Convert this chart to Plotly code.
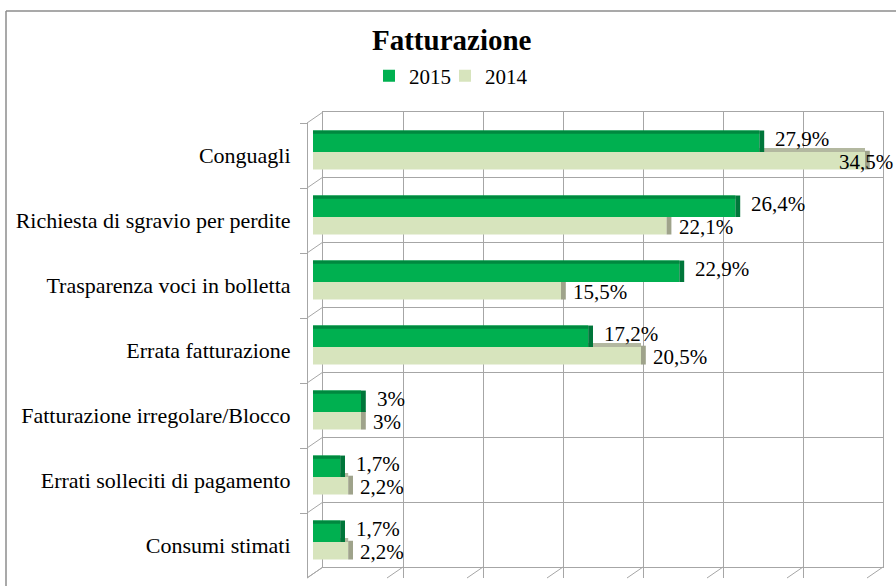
import plotly.graph_objects as go

# ---------------- data ----------------
categories = [
    "Conguagli",
    "Richiesta di sgravio per perdite",
    "Trasparenza voci in bolletta",
    "Errata fatturazione",
    "Fatturazione irregolare/Blocco",
    "Errati solleciti di pagamento",
    "Consumi stimati",
]
values_2015 = [27.9, 26.4, 22.9, 17.2, 3.0, 1.7, 1.7]
values_2014 = [34.5, 22.1, 15.5, 20.5, 3.0, 2.2, 2.2]
series_names = ["2015", "2014"]
title_text = "Fatturazione"
x_max = 35
x_step = 5

# ---------------- style / layout constants ----------------
W, H = 896, 586
FONT = "Liberation Serif"
C15, C15_TOP, C15_SIDE = "#00b050", "#00893f", "#00763a"
C14, C14_TOP, C14_SIDE = "#d7e4bd", "#b3b8a0", "#9fa38b"
GRID = "#a6a6a6"
PX_PER_UNIT = 16
FRONT_X0, BACK_X0, BAR_X0 = 307, 323, 313
FRONT_Y0, BACK_Y0, BAND = 123, 112, 65
BAR_Y0 = 119.5
N = len(categories)


def px(x):
    return x / W


def py(y):
    return 1 - y / H


def fmt(v):
    if abs(v - round(v)) < 1e-9:
        return f"{int(round(v))}%"
    return f"{v:.1f}".replace(".", ",") + "%"


W15, W14 = 0.33, 0.27
SIDE = 0.3
cat_range = [N - 0.5, -0.5]

fig = go.Figure()

# invisible trace for back-wall grid subplot (xy)
fig.add_trace(go.Scatter(x=[None], y=[None], xaxis="x", yaxis="y",
                         showlegend=False, hoverinfo="skip"))
# invisible trace for the category-label axis (x, y3)
fig.add_trace(go.Scatter(x=[0] * N, y=categories, xaxis="x", yaxis="y3",
                         mode="markers", marker=dict(opacity=0),
                         showlegend=False, hoverinfo="skip"))

# 2014 top face (visible where not covered by 2015 bar)
fig.add_trace(go.Bar(y=categories, x=values_2014, orientation="h",
                     xaxis="x2", yaxis="y2", width=0.06, offset=-0.06,
                     marker=dict(color=C14_TOP, line=dict(width=0)),
                     showlegend=False, hoverinfo="skip"))
# 2014 bars
fig.add_trace(go.Bar(y=categories, x=values_2014, orientation="h", name=series_names[1],
                     xaxis="x2", yaxis="y2", width=W14, offset=0,
                     marker=dict(color=C14, line=dict(width=0)), legend="legend2"))
# 2014 side face
fig.add_trace(go.Bar(y=categories, x=[SIDE] * N, base=values_2014, orientation="h",
                     xaxis="x2", yaxis="y2", width=W14 + 0.02, offset=-0.02,
                     marker=dict(color=C14_SIDE, line=dict(width=0)),
                     showlegend=False, hoverinfo="skip"))
# 2015 bars
fig.add_trace(go.Bar(y=categories, x=values_2015, orientation="h", name=series_names[0],
                     xaxis="x2", yaxis="y2", width=W15, offset=-W15,
                     marker=dict(color=C15, line=dict(width=0)), legend="legend"))
# 2015 top face
fig.add_trace(go.Bar(y=categories, x=values_2015, orientation="h",
                     xaxis="x2", yaxis="y2", width=0.05, offset=-W15,
                     marker=dict(color=C15_TOP, line=dict(width=0)),
                     showlegend=False, hoverinfo="skip"))
# 2015 side face
fig.add_trace(go.Bar(y=categories, x=[SIDE] * N, base=values_2015, orientation="h",
                     xaxis="x2", yaxis="y2", width=W15, offset=-W15,
                     marker=dict(color=C15_SIDE, line=dict(width=0)),
                     showlegend=False, hoverinfo="skip"))

# ---------------- data labels ----------------
LABEL_FONT = dict(family=FONT, size=21, color="black")
annotations = []
for vals, shift_x, shift_y in ((values_2015, 14, 13), (values_2014, 10, -10)):
    for cat, v in zip(categories, vals):
        x_px = BAR_X0 + v * PX_PER_UNIT + shift_x
        if x_px + 60 > W:
            annotations.append(dict(x=px(W - 1), xref="paper", y=cat, yref="y2",
                                    xanchor="right", yanchor="middle", yshift=shift_y,
                                    text=fmt(v), showarrow=False, font=LABEL_FONT))
        else:
            annotations.append(dict(x=v, xref="x2", y=cat, yref="y2",
                                    xanchor="left", yanchor="middle",
                                    xshift=shift_x, yshift=shift_y,
                                    text=fmt(v), showarrow=False, font=LABEL_FONT))

# title
annotations.append(dict(x=px(452), y=py(40), xref="paper", yref="paper",
                        text=f"<b>{title_text}</b>", showarrow=False,
                        xanchor="center", yanchor="middle",
                        font=dict(family=FONT, size=29, color="black")))

# ---------------- 3D frame decorations ----------------
shapes = []
# outer chart border
shapes.append(dict(type="line", xref="paper", yref="paper",
                   x0=px(6), y0=py(11), x1=px(W + 5), y1=py(11),
                   line=dict(color="#8c8c8c", width=1.5)))
shapes.append(dict(type="line", xref="paper", yref="paper",
                   x0=px(6), y0=py(11), x1=px(6), y1=py(H + 5),
                   line=dict(color="#8c8c8c", width=1.5)))
# left wall diagonals at band boundaries
for k in range(N + 1):
    shapes.append(dict(type="line", xref="paper", yref="paper",
                       x0=px(FRONT_X0), y0=py(FRONT_Y0 + BAND * k),
                       x1=px(BACK_X0), y1=py(BACK_Y0 + BAND * k),
                       line=dict(color=GRID, width=1)))
# floor diagonals at x ticks
floor_front = FRONT_Y0 + BAND * N
floor_back = BACK_Y0 + BAND * N
for t in range(0, x_max + 1, x_step):
    shapes.append(dict(type="line", xref="paper", yref="paper",
                       x0=px(FRONT_X0 + t * PX_PER_UNIT), y0=py(floor_front),
                       x1=px(BACK_X0 + t * PX_PER_UNIT), y1=py(floor_back),
                       line=dict(color=GRID, width=1)))

legend_style = dict(orientation="h", y=py(76), xanchor="left", yanchor="middle",
                    font=dict(family=FONT, size=21, color="black"),
                    bgcolor="rgba(0,0,0,0)", itemwidth=30)

fig.update_layout(
    width=W, height=H,
    margin=dict(l=0, r=0, t=0, b=0),
    paper_bgcolor="white",
    plot_bgcolor="rgba(0,0,0,0)",
    barmode="overlay",
    font=dict(family=FONT, size=21, color="black"),
    showlegend=True,
    legend=dict(x=px(369), **legend_style),
    legend2=dict(x=px(445), **legend_style),
    # back wall grid
    xaxis=dict(domain=[px(BACK_X0), px(BACK_X0 + x_max * PX_PER_UNIT)], range=[0, x_max],
               dtick=x_step, tick0=0, showgrid=True, gridcolor=GRID, gridwidth=1,
               zeroline=False, showticklabels=False, ticks="",
               showline=True, mirror=True, linecolor=GRID, linewidth=1,
               anchor="y", fixedrange=True),
    yaxis=dict(domain=[py(BACK_Y0 + BAND * N), py(BACK_Y0)], range=[0, N],
               dtick=1, tick0=0, showgrid=True, gridcolor=GRID, gridwidth=1,
               zeroline=False, showticklabels=False, ticks="",
               showline=True, mirror=True, linecolor=GRID, linewidth=1,
               anchor="x", fixedrange=True),
    # bars
    xaxis2=dict(domain=[px(BAR_X0), px(BAR_X0 + x_max * PX_PER_UNIT)], range=[0, x_max],
                showgrid=False, zeroline=False, showticklabels=False, ticks="",
                showline=False, anchor="y2", fixedrange=True),
    yaxis2=dict(domain=[py(BAR_Y0 + BAND * N), py(BAR_Y0)], type="category",
                categoryorder="array", categoryarray=categories, range=cat_range,
                showgrid=False, zeroline=False, showticklabels=False, ticks="",
                showline=False, anchor="x2", fixedrange=True),
    # front left wall with category labels
    yaxis3=dict(domain=[py(FRONT_Y0 + BAND * N), py(FRONT_Y0)], type="category",
                categoryorder="array", categoryarray=categories, range=cat_range,
                anchor="free", position=px(FRONT_X0), side="left",
                showline=True, linecolor=GRID, linewidth=1,
                ticks="outside", ticklen=7, tickcolor=GRID, tickwidth=1,
                tickson="boundaries", showgrid=False, zeroline=False,
                tickfont=dict(family=FONT, size=22, color="black"),
                ticklabelstandoff=12, fixedrange=True),
    annotations=annotations,
    shapes=shapes,
)

fig.write_html(
    "out.html",
    config={"displayModeBar": False, "staticPlot": True},
    post_script="document.body.style.margin='0';document.body.style.padding='0';"
                "document.body.style.overflow='hidden';",
)
